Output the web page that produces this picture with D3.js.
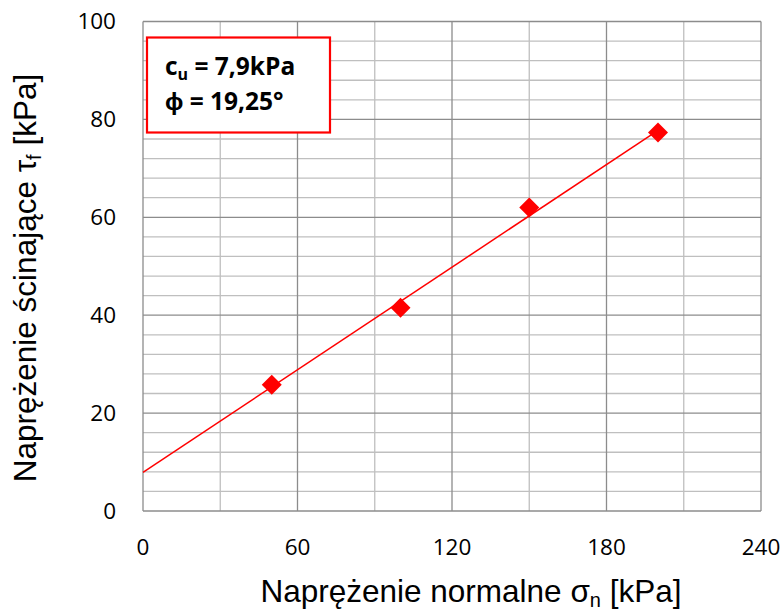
<!DOCTYPE html>
<html>
<head>
<meta charset="utf-8">
<script src="https://cdn.jsdelivr.net/npm/d3@7"></script>
<style>
  body { margin: 0; background: #fff; }
  svg { display: block; }
</style>
</head>
<body>
<div id="chart"></div>
<script>
// measured points (normal stress vs shear strength)
const sigmaN = [50, 100, 150, 200];
const tauF = [25.8, 41.5, 62, 77.3];

// fitted line: c_u + sigma * tan(phi)
const cohesion = 7.9;
const phiDeg = 19.25;
const fitRange = [0, 200];

const xTicks = [0, 60, 120, 180, 240];
const xMinor = [30, 90, 150, 210];
const yTicks = [0, 20, 40, 60, 80, 100];
const yMinor = [4, 8, 12, 16, 24, 28, 32, 36, 44, 48, 52, 56, 64, 68, 72, 76, 84, 88, 92, 96];

const W = 784, H = 613;
const margin = { left: 143, right: 23, top: 21.5, bottom: 102 };

const svg = d3.select('#chart')
  .append('svg')
  .attr('width', W)
  .attr('height', H);

const x = d3.scaleLinear().domain([0, 240]).range([margin.left, W - margin.right]);
const y = d3.scaleLinear().domain([0, 100]).range([H - margin.bottom, margin.top]);

// minor grid
svg.append('g').selectAll('line.vmin')
  .data(xMinor).enter().append('line')
  .attr('x1', d => x(d)).attr('x2', d => x(d))
  .attr('y1', y(0)).attr('y2', y(100))
  .attr('stroke', '#bfbfbf').attr('stroke-width', 1.3);

svg.append('g').selectAll('line.hmin')
  .data(yMinor).enter().append('line')
  .attr('x1', x(0)).attr('x2', x(240))
  .attr('y1', d => y(d)).attr('y2', d => y(d))
  .attr('stroke', '#bfbfbf').attr('stroke-width', 1.3);

// major grid
svg.append('g').selectAll('line.vmaj')
  .data(xTicks).enter().append('line')
  .attr('x1', d => x(d)).attr('x2', d => x(d))
  .attr('y1', y(0)).attr('y2', y(100))
  .attr('stroke', '#8c8c8c').attr('stroke-width', 1.3);

svg.append('g').selectAll('line.hmaj')
  .data(yTicks).enter().append('line')
  .attr('x1', x(0)).attr('x2', x(240))
  .attr('y1', d => y(d)).attr('y2', d => y(d))
  .attr('stroke', '#8c8c8c').attr('stroke-width', 1.3);

// tick labels
const tickFont = '"Open Sans", sans-serif';
svg.append('g').selectAll('text')
  .data(xTicks).enter().append('text')
  .attr('x', d => x(d))
  .attr('y', y(0) + 44)
  .attr('text-anchor', 'middle')
  .attr('font-family', tickFont)
  .attr('font-size', 22.5)
  .attr('fill', '#000')
  .text(d => d);

svg.append('g').selectAll('text')
  .data(yTicks).enter().append('text')
  .attr('x', x(0) - 27)
  .attr('y', d => y(d))
  .attr('dy', '0.35em')
  .attr('text-anchor', 'end')
  .attr('font-family', tickFont)
  .attr('font-size', 22.5)
  .attr('fill', '#000')
  .text(d => d);

// fit line
const slope = Math.tan(phiDeg * Math.PI / 180);
svg.append('line')
  .attr('x1', x(fitRange[0])).attr('y1', y(cohesion + slope * fitRange[0]))
  .attr('x2', x(fitRange[1])).attr('y2', y(cohesion + slope * fitRange[1]))
  .attr('stroke', '#ff0000').attr('stroke-width', 1.5);

// diamond markers
const pts = sigmaN.map((s, i) => ({ s: s, t: tauF[i] }));
svg.append('g').selectAll('path')
  .data(pts).enter().append('path')
  .attr('transform', d => `translate(${x(d.s)},${y(d.t)})`)
  .attr('d', 'M0,-10L10,0L0,10L-10,0Z')
  .attr('fill', '#ff0000');

// parameter box
const box = svg.append('g');
box.append('rect')
  .attr('x', 147).attr('y', 37.5)
  .attr('width', 183).attr('height', 95)
  .attr('fill', '#fff')
  .attr('stroke', '#ff0000').attr('stroke-width', 2.2);

const t1 = box.append('text')
  .attr('x', 165).attr('y', 75)
  .attr('font-family', tickFont).attr('font-weight', 'bold').attr('font-size', 24.5);
t1.append('tspan').text('c');
t1.append('tspan').attr('font-size', 16).attr('dy', 5).text('u');
t1.append('tspan').attr('dy', -5).text(' = 7,9kPa');

box.append('text')
  .attr('x', 165).attr('y', 110)
  .attr('font-family', tickFont).attr('font-weight', 'bold').attr('font-size', 24.5)
  .text('\u03D5 = 19,25\u00B0');

// axis titles
const titleFont = '"Liberation Sans", Arial, sans-serif';
const xt = svg.append('text')
  .attr('x', 471).attr('y', 602)
  .attr('text-anchor', 'middle')
  .attr('font-family', titleFont).attr('font-size', 31.5)
  .attr('fill', '#000');
xt.append('tspan').text('Naprężenie normalne σ');
xt.append('tspan').attr('font-size', 20).attr('dy', 5).text('n');
xt.append('tspan').attr('dy', -5).text(' [kPa]');

const yt = svg.append('text')
  .attr('transform', 'translate(36,278) rotate(-90)')
  .attr('text-anchor', 'middle')
  .attr('font-family', titleFont).attr('font-size', 31.5)
  .attr('fill', '#000');
yt.append('tspan').text('Naprężenie ścinające τ');
yt.append('tspan').attr('font-size', 20).attr('dy', 5).text('f');
yt.append('tspan').attr('dy', -5).text(' [kPa]');
</script>
</body>
</html>
